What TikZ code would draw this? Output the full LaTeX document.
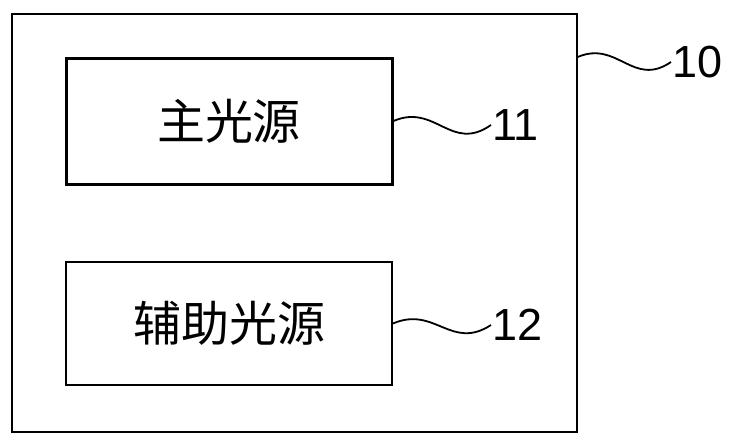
\documentclass[tikz,border=0pt]{standalone}
\usepackage{fontspec}
\setmainfont{Liberation Sans}
\newfontfamily\cjk{Noto Sans CJK SC}
\usetikzlibrary{positioning, calc}
\tikzset{
  unitbox/.style={
    draw, rectangle,
    minimum width=326pt,
    font=\cjk\fontsize{48}{48}\selectfont
  },
  refnum/.style={anchor=west, inner sep=1pt, font=\fontsize{45}{45}\selectfont},
  leader/.style={line width=1.8pt},
}

\begin{document}
\begin{tikzpicture}[x=1pt, y=-1pt]
  \useasboundingbox (0,0) rectangle (732,447);

  \node[draw, rectangle, line width=1.4pt,
        minimum width=565pt, minimum height=418pt] (sys) at (294.5,223) {};

  \node[unitbox, line width=3pt, minimum height=126pt] (main) at (229,121) {主光源};
  \node[unitbox, line width=2pt, minimum height=123pt] (aux)  at (229,323.5) {辅助光源};

  \node[refnum] (lbl10) at (671,62)  {10};
  \node[refnum] (lbl11) at (491,125) {11};
  \node[refnum] (lbl12) at (491,325) {12};

  \draw[leader] ([yshift=5pt]sys.east |- lbl10.west)
    .. controls +(40,-17) and +(-38,26) .. (lbl10.west);
  \draw[leader] (main.east)
    .. controls +(42,-18) and +(-40,28) .. (lbl11.west);
  \draw[leader] (aux.east)
    .. controls +(42,-18) and +(-40,26) .. (lbl12.west);
\end{tikzpicture}
\end{document}
